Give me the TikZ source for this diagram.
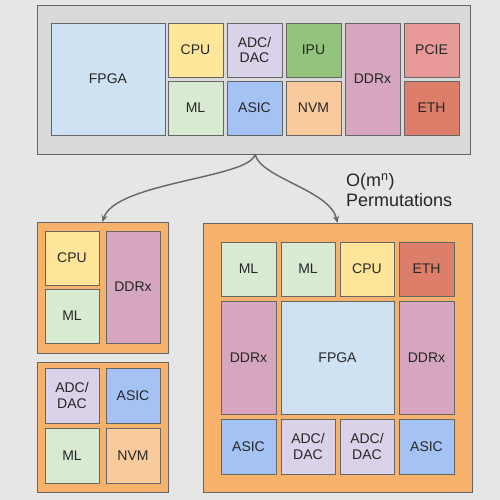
\documentclass[tikz,border=0pt]{standalone}
\usepackage{fontspec}
\setmainfont{Liberation Sans}
\usetikzlibrary{arrows.meta}
\definecolor{bg}{HTML}{E6E6E6}
\definecolor{topbox}{HTML}{D9D9D9}
\definecolor{edge}{HTML}{666666}
\definecolor{orng}{HTML}{F6B26B}
\definecolor{cFPGA}{HTML}{CFE2F3}
\definecolor{cCPU}{HTML}{FFE599}
\definecolor{cADC}{HTML}{D9D2E9}
\definecolor{cIPU}{HTML}{93C47D}
\definecolor{cDDR}{HTML}{D5A6BD}
\definecolor{cPCIE}{HTML}{EA9999}
\definecolor{cETH}{HTML}{DD7E6B}
\definecolor{cML}{HTML}{D9EAD3}
\definecolor{cASIC}{HTML}{A4C2F4}
\definecolor{cNVM}{HTML}{F9CB9C}
\definecolor{arr}{HTML}{666666}
\newcommand\cell[7]{\node[blk,fill=#6,minimum width={(#4-#2)*1pt},minimum height={(#5-#3)*1pt}] (#1) at ({(#2+#4)/2},{(#3+#5)/2}) {#7};}
\tikzset{
  blk/.style={draw=edge,line width=0.9pt,inner sep=0pt,outer sep=0pt,align=center,
    font=\fontsize{14}{15.5}\selectfont,text=black!85},
}
\begin{document}
\begin{tikzpicture}[x=1pt,y=-1pt]
\fill[bg] (0,0) rectangle (500,500);
\useasboundingbox (0,0) rectangle (500,500);
% top box
\cell{top}{37}{5}{470}{154}{topbox}{}
\cell{tFPGA}{51}{23}{165}{135}{cFPGA}{FPGA}
\cell{tCPU}{168}{23}{223}{77}{cCPU}{CPU}
\cell{tML}{168}{81}{223}{135}{cML}{ML}
\cell{tADC}{227}{23}{282}{77}{cADC}{ADC/\\DAC}
\cell{tASIC}{227}{81}{282}{135}{cASIC}{ASIC}
\cell{tIPU}{286}{23}{341}{77}{cIPU}{IPU}
\cell{tNVM}{286}{81}{341}{135}{cNVM}{NVM}
\cell{tDDR}{345}{23}{400}{135}{cDDR}{DDRx}
\cell{tPCIE}{404}{23}{459}{77}{cPCIE}{PCIE}
\cell{tETH}{404}{81}{459}{135}{cETH}{ETH}
% left top box
\cell{lb1}{37}{222}{168}{353}{orng}{}
\cell{lCPU}{45}{231}{99}{285}{cCPU}{CPU}
\cell{lML}{45}{289}{99}{343}{cML}{ML}
\cell{lDDR}{106}{231}{160}{343}{cDDR}{DDRx}
% left bottom box
\cell{lb2}{37}{362}{168}{492}{orng}{}
\cell{lADC}{45}{368}{99}{423}{cADC}{ADC/\\DAC}
\cell{lASIC}{106}{368}{160}{423}{cASIC}{ASIC}
\cell{lML2}{45}{428}{99}{483}{cML}{ML}
\cell{lNVM}{106}{428}{160}{483}{cNVM}{NVM}
% right box
\cell{rb}{203}{223}{472}{492}{orng}{}
\cell{rML1}{221}{242}{276}{296}{cML}{ML}
\cell{rML2}{281}{242}{335}{296}{cML}{ML}
\cell{rCPU}{340}{242}{394}{296}{cCPU}{CPU}
\cell{rETH}{399}{242}{454}{296}{cETH}{ETH}
\cell{rDDR1}{221}{301}{276}{414}{cDDR}{DDRx}
\cell{rFPGA}{281}{301}{394}{414}{cFPGA}{FPGA}
\cell{rDDR2}{399}{301}{454}{414}{cDDR}{DDRx}
\cell{rASIC1}{221}{419}{276}{474}{cASIC}{ASIC}
\cell{rADC1}{281}{419}{335}{474}{cADC}{ADC/\\DAC}
\cell{rADC2}{340}{419}{394}{474}{cADC}{ADC/\\DAC}
\cell{rASIC2}{399}{419}{454}{474}{cASIC}{ASIC}
% arrows
\coordinate (split) at (255,154);
\draw[arr,line width=1.4pt,-{Stealth[length=7pt,width=6pt]}] (split) .. controls (252,178) and (115,182) .. (lb1.north);
\draw[arr,line width=1.4pt,-{Stealth[length=7pt,width=6pt]}] (split) .. controls (260,178) and (330,190) .. (rb.north);
\node[anchor=west,align=left,font=\fontsize{18}{20}\selectfont,text=black!85,inner sep=0pt] (perm) at (346,190) {O(m\textsuperscript{n})\\Permutations};
\end{tikzpicture}
\end{document}
